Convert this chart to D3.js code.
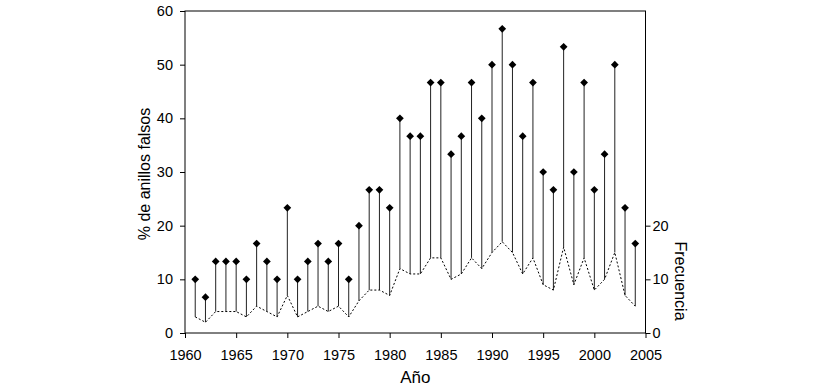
<!DOCTYPE html>
<html><head><meta charset="utf-8">
<script src="https://cdn.jsdelivr.net/npm/d3@7"></script>
<style>body{margin:0;background:#fff}svg{display:block}text{font-family:"Liberation Sans",Arial,sans-serif;fill:#000}</style>
</head><body><svg id="c" width="825" height="392"></svg>
<script>
const years = [1961,1962,1963,1964,1965,1966,1967,1968,1969,1970,1971,1972,1973,1974,1975,1976,1977,1978,1979,1980,1981,1982,1983,1984,1985,1986,1987,1988,1989,1990,1991,1992,1993,1994,1995,1996,1997,1998,1999,2000,2001,2002,2003,2004];
const pctFalse = [10,6.67,13.33,13.33,13.33,10,16.67,13.33,10,23.33,10,13.33,16.67,13.33,16.67,10,20,26.67,26.67,23.33,40,36.67,36.67,46.67,46.67,33.33,36.67,46.67,40,50,56.67,50,36.67,46.67,30,26.67,53.33,30,46.67,26.67,33.33,50,23.33,16.67];
const frequency = [3,2,4,4,4,3,5,4,3,7,3,4,5,4,5,3,6,8,8,7,12,11,11,14,14,10,11,14,12,15,17,15,11,14,9,8,16,9,14,8,10,15,7,5];
const xTicks = [1960,1965,1970,1975,1980,1985,1990,1995,2000,2005];
const yLeftTicks = [0,10,20,30,40,50,60];
const yRightTicks = [0,10,20];

const svg = d3.select("#c");
const L=185, R=645.5, T=11, B=333;
const x = d3.scaleLinear().domain([1960,2005]).range([L,R]);
const y = d3.scaleLinear().domain([0,60]).range([B,T]);
const y2 = d3.scaleLinear().domain([0,60]).range([B,T]);

// frame
svg.append("rect").attr("x",L).attr("y",T).attr("width",R-L).attr("height",B-T)
  .attr("fill","none").attr("stroke","#000").attr("stroke-width",1);

// drop lines
svg.append("g").selectAll("line").data(years).join("line")
  .attr("x1",(d)=>x(d)).attr("x2",(d)=>x(d))
  .attr("y1",(d,i)=>y2(frequency[i])).attr("y2",(d,i)=>y(pctFalse[i]))
  .attr("stroke","#222").attr("stroke-width",1);

// dashed frequency line
svg.append("path").datum(years)
  .attr("d", d3.line().x(d=>x(d)).y((d,i)=>y2(frequency[i])))
  .attr("fill","none").attr("stroke","#000").attr("stroke-width",1).attr("stroke-dasharray","2,2");

// diamonds
svg.append("g").selectAll("path").data(years).join("path")
  .attr("d", d3.symbol().type(d3.symbolSquare).size(30))
  .attr("transform",(d,i)=>`translate(${x(d)},${y(pctFalse[i])}) rotate(45)`)
  .attr("fill","#000");

// axes
const ax = svg.append("g").attr("transform",`translate(0,${B})`)
  .call(d3.axisBottom(x).tickValues(xTicks).tickFormat(d3.format("d")).tickSize(5).tickPadding(12));
const ay = svg.append("g").attr("transform",`translate(${L},0)`)
  .call(d3.axisLeft(y).tickValues(yLeftTicks).tickSize(5).tickPadding(7));
const ay2 = svg.append("g").attr("transform",`translate(${R},0)`)
  .call(d3.axisRight(y2).tickValues(yRightTicks).tickSize(5).tickPadding(2));
[ax,ay,ay2].forEach(g=>{
  g.select(".domain").remove();
  g.selectAll("line").attr("stroke","#000");
  g.selectAll("text").attr("font-size",14.5).attr("font-family","Liberation Sans, Arial, sans-serif");
});

// labels
svg.append("text").attr("x",(L+R)/2).attr("y",383).attr("text-anchor","middle")
  .attr("font-size",17).text("Año");
svg.append("text").attr("transform",`translate(149.5,174) rotate(-90)`).attr("text-anchor","middle")
  .attr("font-size",16).text("% de anillos falsos");
svg.append("text").attr("transform",`translate(675,281) rotate(90)`).attr("text-anchor","middle")
  .attr("font-size",16).text("Frecuencia");
</script></body></html>
